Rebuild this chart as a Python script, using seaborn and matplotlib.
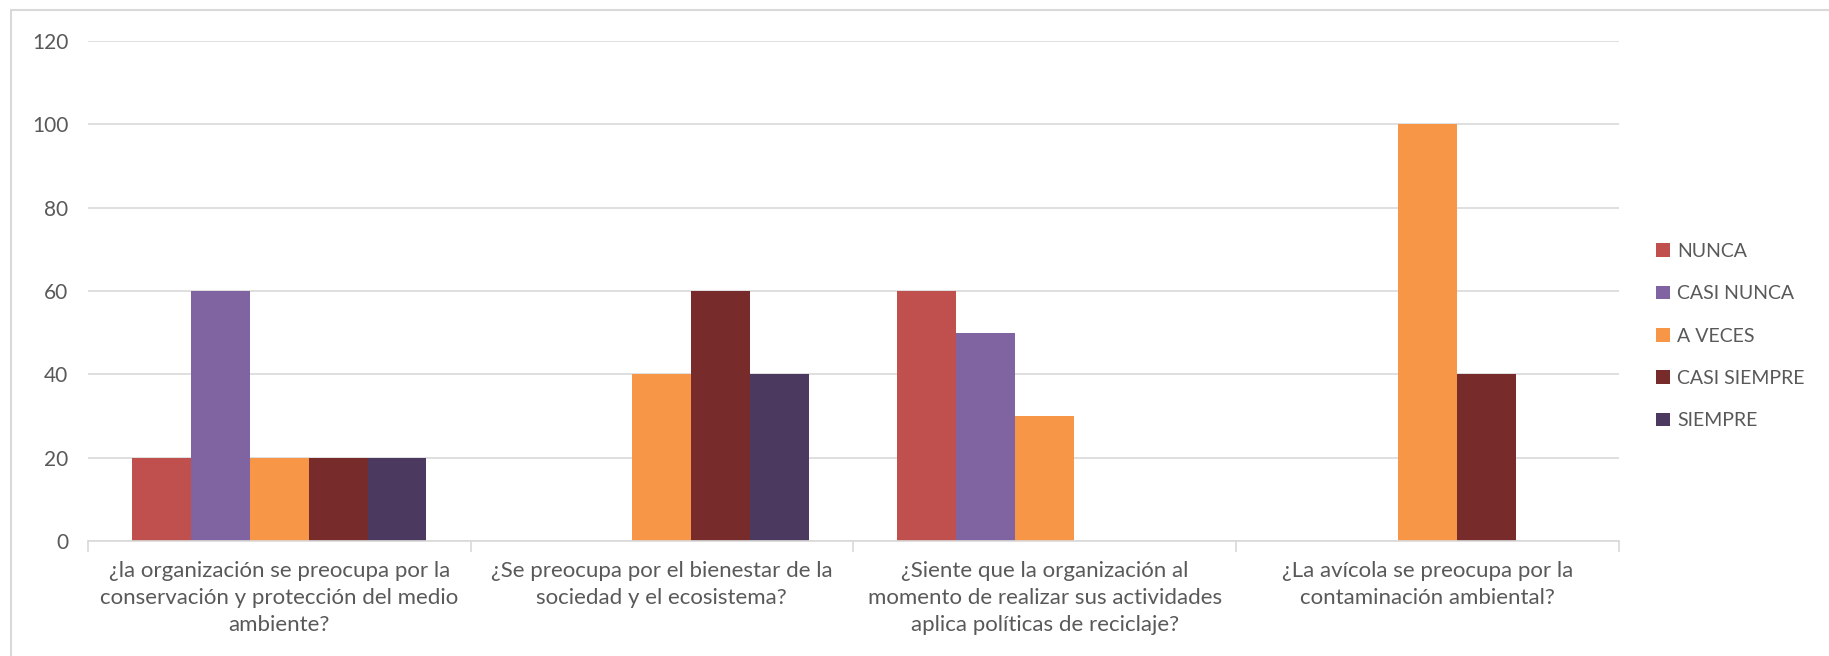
import matplotlib
matplotlib.use("Agg")
import matplotlib.pyplot as plt
import matplotlib.patches as mpatches
import seaborn as sns
import pandas as pd
import numpy as np

# Survey data
QUESTIONS = [
    "¿la organización se preocupa por la\nconservación y protección del medio\nambiente?",
    "¿Se preocupa por el bienestar de la\nsociedad y el ecosistema?",
    "¿Siente que la organización al\nmomento de realizar sus actividades\naplica políticas de reciclaje?",
    "¿La avícola se preocupa por la\ncontaminación ambiental?",
]
ANSWERS = ["NUNCA", "CASI NUNCA", "A VECES", "CASI SIEMPRE", "SIEMPRE"]
NUNCA = [20, 0, 60, 0]
CASI_NUNCA = [60, 0, 50, 0]
A_VECES = [20, 40, 30, 100]
CASI_SIEMPRE = [20, 60, 0, 40]
SIEMPRE = [20, 40, 0, 0]
COLORS = ["#C0504D", "#8064A2", "#F79646", "#772B2A", "#4B3960"]

TEXT = "#595959"
GRID = "#D9D9D9"

sns.set_theme(style="white")
plt.rcParams["font.family"] = ["Lato", "DejaVu Sans"]

series = [NUNCA, CASI_NUNCA, A_VECES, CASI_SIEMPRE, SIEMPRE]
rows = []
for ans, vals in zip(ANSWERS, series):
    for q, v in zip(QUESTIONS, vals):
        rows.append({"pregunta": q, "respuesta": ans, "valor": v})
df = pd.DataFrame(rows)

fig = plt.figure(figsize=(18.29, 6.56), dpi=100)
ax = fig.add_axes([0.048, 0.175, 0.837, 0.7625])

sns.barplot(
    data=df, x="pregunta", y="valor", hue="respuesta",
    order=QUESTIONS, hue_order=ANSWERS, palette=COLORS,
    saturation=1, width=0.77, gap=0, edgecolor="none",
    errorbar=None, ax=ax,
)

ax.set_ylim(0, 120)
ax.set_yticks(range(0, 121, 20))
ax.set_xlim(-0.5, len(QUESTIONS) - 0.5)
ax.yaxis.grid(True, color=GRID, linewidth=1.2)
ax.set_axisbelow(True)
for s in ["top", "right", "left"]:
    ax.spines[s].set_visible(False)
ax.spines["bottom"].set_color(GRID)
ax.spines["bottom"].set_linewidth(1.2)

ax.set_xlabel("")
ax.set_ylabel("")
ax.tick_params(axis="y", length=0, labelsize=15, labelcolor=TEXT, pad=14)
ax.tick_params(axis="x", which="major", length=0, labelsize=16, labelcolor=TEXT, pad=14)
ax.set_xticks(np.arange(-0.5, len(QUESTIONS), 1.0), minor=True)
ax.tick_params(axis="x", which="minor", bottom=True, length=8, color=GRID, width=1.2)
for lbl in ax.get_xticklabels():
    lbl.set_multialignment("center")
    lbl.set_linespacing(1.45)

ax.legend(
    loc="center left", bbox_to_anchor=(1.013, 0.41), frameon=False,
    fontsize=14, labelcolor=TEXT, handlelength=0.7, handleheight=0.7,
    handletextpad=0.4, labelspacing=1.3,
)

# light frame around the chart area
fig.patches.append(mpatches.Rectangle(
    (0.006, -0.01), 1.0, 0.995, transform=fig.transFigure,
    fill=False, edgecolor=GRID, linewidth=1.5,
))

fig.savefig("out.png", dpi=100, facecolor="white")
